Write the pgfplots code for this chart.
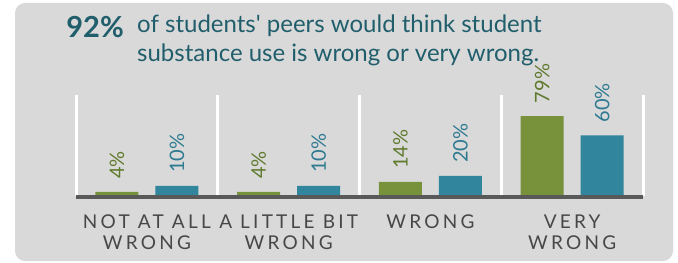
\documentclass[border=0pt]{standalone}
\usepackage{pgfplots}
\pgfplotsset{compat=1.18}
\usepackage{fontspec}
\setmainfont{Lato}
\newfontfamily\tickfont{Lato}[LetterSpace=17]
\newfontfamily\quotefont{Lato}[Ligatures=TeXOff]
\definecolor{bggray}{HTML}{D9D9D9}
\definecolor{titleteal}{HTML}{215E6C}
\definecolor{bargreen}{HTML}{77923B}
\definecolor{barblue}{HTML}{31869D}
\definecolor{lblgreen}{HTML}{5F7A2C}
\definecolor{lblblue}{HTML}{2D7A91}
\definecolor{axisgray}{HTML}{595959}
\definecolor{ticktext}{HTML}{474747}
\begin{document}
\begin{tikzpicture}[x=1bp,y=1bp]
\useasboundingbox (0,0) rectangle (678,262);
\clip (0,0) rectangle (678,262);
\fill[white] (0,0) rectangle (678,262);
\fill[bggray, rounded corners=10bp] (15,1) rectangle (673,259);
% title
\node[anchor=base east, inner sep=0pt, text=titleteal, font=\fontsize{29bp}{30bp}\selectfont\bfseries] at (124,225) {92\%};
\node[anchor=base west, inner sep=0pt, text=titleteal, font=\fontsize{24bp}{25bp}\selectfont] at (137,229.5) {of students{\quotefont'} peers would think student};
\node[anchor=base west, inner sep=0pt, text=titleteal, font=\fontsize{24bp}{25bp}\selectfont] at (137,201) {substance use is wrong or very wrong.};
\begin{axis}[
  at={(76bp,66bp)}, anchor=south west,
  scale only axis, width=567bp, height=101bp,
  xmin=-0.5, xmax=3.5, ymin=0, ymax=100,
  clip=false,
  axis line style={draw=none},
  ybar, bar width=43bp,
  xtick={0,1,2,3},
  xticklabels={NOT AT ALL\\WRONG, A LITTLE BIT\\WRONG, WRONG, VERY\\WRONG},
  xticklabel style={align=center, text=ticktext, anchor=north, inner sep=0pt, yshift=-19bp,
     font=\tickfont\fontsize{19bp}{21bp}\selectfont},
  ytick=\empty,
  minor xtick={-0.5,0.5,1.5,2.5,3.5},
  xminorgrids, minor grid style={white, line width=3bp},
  major tick length=0pt, minor tick length=0pt,
  nodes near coords={\pgfmathprintnumber[assume math mode=true]{\pgfplotspointmeta}\%},
  every node near coord/.append style={rotate=90, anchor=west, inner xsep=13bp,
     font=\fontsize{20bp}{20bp}\selectfont},
]
\addplot[fill=bargreen, draw=none, bar shift=-30bp,
  every node near coord/.append style={text=lblgreen}]
  coordinates {(0,4) (1,4) (2,14) (3,79)};
\addplot[fill=barblue, draw=none, bar shift=30bp,
  every node near coord/.append style={text=lblblue}]
  coordinates {(0,10) (1,10) (2,20) (3,60)};
\draw[axisgray, line width=4bp] ([yshift=-1bp]rel axis cs:0,0) -- ([yshift=-1bp]rel axis cs:1,0);
\end{axis}
\end{tikzpicture}
\end{document}
